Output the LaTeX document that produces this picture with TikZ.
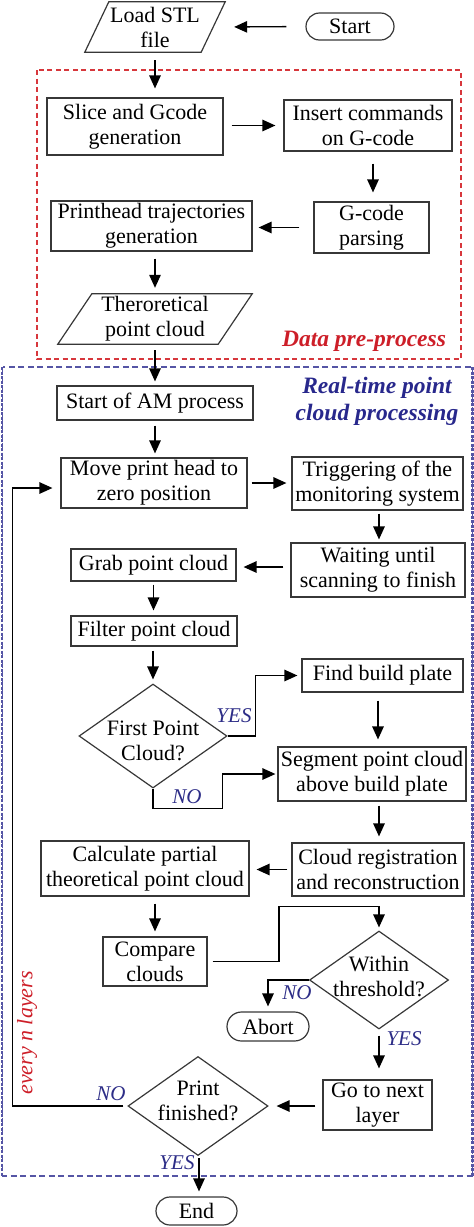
\documentclass[tikz,border=0pt]{standalone}
\usepackage{fontspec}
\setmainfont{Liberation Serif}
\usetikzlibrary{shapes.geometric,arrows.meta,calc}
\definecolor{bc}{RGB}{55,55,55}
\definecolor{lblue}{RGB}{45,45,135}
\definecolor{tblue}{RGB}{40,40,140}
\definecolor{dblue}{RGB}{85,85,165}
\definecolor{dred}{RGB}{215,55,60}
\definecolor{tred}{RGB}{205,30,40}
\newcommand\myfs{\fontsize{22}{25}\selectfont}
\newcommand\mylfs{\fontsize{21}{23}\selectfont}
\tikzset{
 box/.style={draw=bc, line width=1.2pt, inner sep=0pt, align=center, font=\myfs},
 plain/.style={inner sep=0pt, align=center, font=\myfs},
 term/.style={box, rounded corners=13.5pt},
 dia/.style={draw=bc, line width=1.2pt, diamond, inner sep=0pt},
 arr/.style={draw=black, line width=1.3pt, -{Triangle[length=13pt 0,width=11.5pt 0]}},
 lbl/.style={font=\mylfs\itshape, text=lblue, inner sep=0pt},
 para/.style={draw=bc, line width=1.2pt, line join=miter},
}
\begin{document}
\begin{tikzpicture}[x=1pt,y=-1pt]
\useasboundingbox (0,0) rectangle (474,1227);
% group frames
\draw[dred, line width=1.2pt, dash pattern=on 5pt off 3.5pt] (37,70) rectangle (461,359);
\draw[dblue, line width=1.6pt, dash pattern=on 6pt off 3.5pt] (2.5,367) rectangle (472.5,1176);
\draw[dblue, line width=2.6pt, dash pattern=on 3pt off 1.5pt] (2,367) -- (2,1176);
\draw[dblue, line width=2.6pt, dash pattern=on 3pt off 1.5pt] (472.5,367) -- (472.5,1176);
\node[font=\fontsize{23.5}{26}\selectfont\bfseries\itshape, text=tred, inner sep=0pt] (dpp) at (364,341) {Data pre-process};
\node[font=\fontsize{23.5}{27}\selectfont\bfseries\itshape, text=tblue, inner sep=0pt, align=center] (rtp) at (377,401) {Real-time point\\cloud processing};
\node[font=\fontsize{22}{24}\selectfont\itshape, text=tred, inner sep=0pt, rotate=90] (every) at (27,1033) {every n layers};

% nodes
\node[term, minimum width=88pt, minimum height=27pt] (start) at (350,26.5) {Start};
\node[plain, minimum width=140pt, minimum height=50pt] (load) at (155,27) {Load STL\\file};
\draw[para] (load.south west) -- ([xshift=24pt]load.north west) -- (load.north east) -- ([xshift=-24pt]load.south east) -- cycle;
\node[box, minimum width=176pt, minimum height=57pt] (slice) at (135,126.5) {Slice and Gcode\\generation};
\node[box, minimum width=168pt, minimum height=51pt] (insert) at (368,125.5) {Insert commands\\on G-code};
\node[box, minimum width=115pt, minimum height=51pt] (parse) at (371.5,227.5) {G-code\\parsing};
\node[box, minimum width=201pt, minimum height=50pt] (printhead) at (151.5,226) {Printhead trajectories\\generation};
\node[plain, minimum width=194pt, minimum height=50pt] (theo) at (155,319) {Theroretical\\point cloud};
\draw[para] (theo.south west) -- ([xshift=34pt]theo.north west) -- (theo.north east) -- ([xshift=-34pt]theo.south east) -- cycle;
\node[box, minimum width=196pt, minimum height=34pt] (startam) at (155,403) {Start of AM process};
\node[box, minimum width=186pt, minimum height=50pt] (move) at (154,483) {Move print head to\\zero position};
\node[box, minimum width=171pt, minimum height=53pt] (trig) at (377.5,483.5) {Triggering of the\\monitoring system};
\node[box, minimum width=174pt, minimum height=54pt] (wait) at (378,570) {Waiting until\\scanning to finish};
\node[box, minimum width=165pt, minimum height=32pt] (grab) at (153.5,565) {Grab point cloud};
\node[box, minimum width=166pt, minimum height=30pt] (filter) at (154,631) {Filter point cloud};
\node[dia, minimum width=148pt, minimum height=104pt] (first) at (153,736) {};
\node[plain] (firstT) at (153,741) {First Point\\Cloud?};
\node[box, minimum width=161pt, minimum height=33pt] (find) at (382.5,675.5) {Find build plate};
\node[box, minimum width=188pt, minimum height=54pt] (segment) at (372,774) {Segment point cloud\\above build plate};
\node[box, minimum width=172pt, minimum height=53pt] (cloudreg) at (378,869.5) {Cloud registration\\and reconstruction};
\node[box, minimum width=208pt, minimum height=55pt] (calc) at (145,868.5) {Calculate partial\\theoretical point cloud};
\node[box, minimum width=104pt, minimum height=49pt] (compare) at (155,961.5) {Compare\\clouds};
\node[dia, minimum width=139pt, minimum height=98pt] (within) at (379,980) {};
\node[plain] (withinT) at (379,977) {Within\\threshold?};
\node[term, minimum width=82pt, minimum height=29pt, rounded corners=14.5pt] (abort) at (268,1026.5) {Abort};
\node[box, minimum width=109pt, minimum height=50pt] (goto) at (377.5,1105) {Go to next\\layer};
\node[dia, minimum width=140pt, minimum height=99pt] (print) at (198,1106) {};
\node[plain] (printT) at (198,1101) {Print\\finished?};
\node[term, minimum width=81pt, minimum height=28pt, rounded corners=14pt] (end) at (196.5,1211) {End};

% connectors
\draw[arr, shorten <=19pt, shorten >=9pt] (start.west) -- (load.east);
\draw[arr, shorten <=8pt, shorten >=9pt] (load.south) -- (load.south |- slice.north);
\draw[arr, shorten <=8pt, shorten >=8pt] (slice.east |- insert.west) -- (insert.west);
\draw[arr, shorten <=12pt, shorten >=9pt] ([xshift=5pt]insert.south) -- ([xshift=5pt]insert.south |- parse.north);
\draw[arr, shorten <=14pt, shorten >=6pt] (parse.west) -- (parse.west -| printhead.east);
\draw[arr, shorten <=7pt, shorten >=6pt] (theo.north |- printhead.south) -- (theo.north);
\draw[arr, shorten <=6pt, shorten >=4pt] (theo.south) -- (startam.north);
\draw[arr, shorten <=5pt, shorten >=4pt] (startam.south) -- (startam.south |- move.north);
\draw[arr, shorten <=4pt, shorten >=5pt] (move.east) -- (move.east -| trig.west);
\draw[arr, shorten <=3pt, shorten >=3pt] ([xshift=1.5pt]trig.south) -- ([xshift=1.5pt]trig.south |- wait.north);
\draw[arr, shorten <=7pt, shorten >=7pt] ([yshift=3pt]wait.west) -- ([yshift=3pt]wait.west -| grab.east);
\draw[arr, shorten <=3pt, shorten >=5pt] (grab.south) -- (grab.south |- filter.north);
\draw[arr, shorten <=4pt, shorten >=4pt] (filter.south -| first.north) -- (first.north);
\draw[arr, shorten >=4pt] (first.east) -- ([xshift=-46pt]find.west |- first.east) |- (find.west);
\draw[arr, shorten >=2pt] (first.south) -- ++(0,20) -| ([xshift=-55pt]segment.west) -- (segment.west);
\draw[arr, shorten <=8pt, shorten >=7pt] ([xshift=-4.5pt]find.south) -- ([xshift=-4.5pt]find.south |- segment.north);
\draw[arr, shorten <=4pt, shorten >=6pt] ([xshift=7pt]segment.south) -- ([xshift=7pt]segment.south |- cloudreg.north);
\draw[arr, shorten <=4pt, shorten >=7pt] (cloudreg.west) -- (cloudreg.west -| calc.east);
\draw[arr, shorten <=7pt, shorten >=5pt] ([xshift=10pt]calc.south) -- ([xshift=10pt]calc.south |- compare.north);
\draw[arr, shorten >=3pt] ([xshift=5pt]compare.east) -| ([xshift=-100pt,yshift=24pt]within.north) -| (within.north);
\draw[arr, shorten >=5pt] (within.west) -| (abort.north);
\draw[arr, shorten <=6pt, shorten >=11pt] (within.south) -- (within.south |- goto.north);
\draw[arr, shorten <=7pt, shorten >=8pt] ([yshift=-1pt]goto.west) -- ([yshift=-1pt]goto.west -| print.east);
\draw[arr, shorten >=8pt] ([xshift=-4pt]print.west) -| ([xshift=-48pt,yshift=-5pt]move.west) -- ([yshift=-5pt]move.west);
\draw[arr, shorten <=2pt, shorten >=5pt] ([xshift=1pt]print.south) -- ([xshift=1pt]print.south |- end.north);

% labels
\node[lbl] (yes1) at (234,716) {YES};
\node[lbl] (no1) at (187,797) {NO};
\node[lbl] (no2) at (297,993) {NO};
\node[lbl] (yes2) at (404,1039) {YES};
\node[lbl] (no3) at (111,1094) {NO};
\node[lbl] (yes3) at (177,1163) {YES};
\end{tikzpicture}
\end{document}
